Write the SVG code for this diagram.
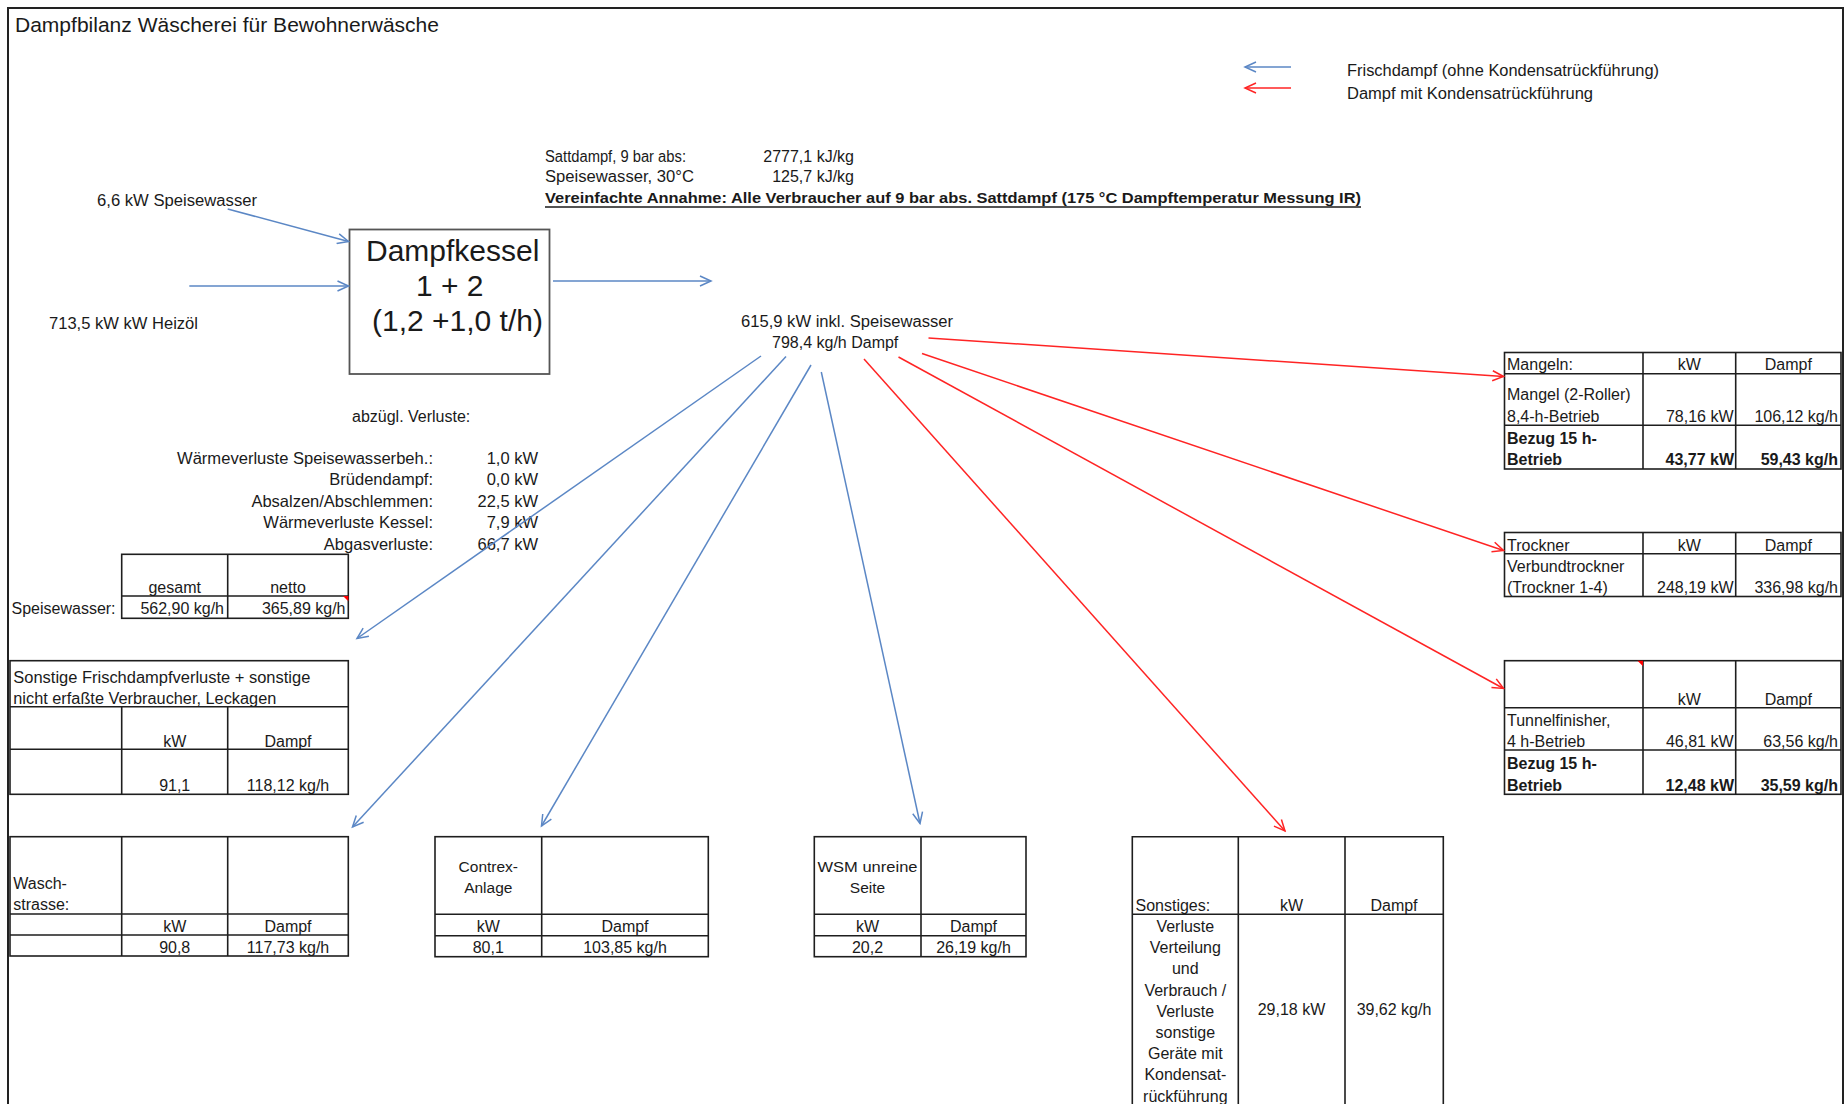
<svg xmlns="http://www.w3.org/2000/svg" width="1845" height="1104" viewBox="0 0 1845 1104">
<style>
  text { font-family: "Liberation Sans", Arial, sans-serif; font-size: 16px; fill: #1a1a1a; }
  .b { font-weight: bold; }
  .m { text-anchor: middle; }
  .e { text-anchor: end; }
  .l16 { font-size: 16.5px; }
  .grid { fill: none; stroke: #1e1e1e; stroke-width: 1.6; }
  .blue { fill: none; stroke: #5b87c5; stroke-width: 1.5; }
  .red { fill: none; stroke: #ff2424; stroke-width: 1.5; }
  .note { fill: #ff0000; }
</style>
<defs>
  <marker id="ab" markerWidth="14" markerHeight="12" refX="12" refY="6" orient="auto" markerUnits="userSpaceOnUse">
    <path d="M1,1 L12,6 L1,11" fill="none" stroke="#5b87c5" stroke-width="1.5"/>
  </marker>
  <marker id="ar" markerWidth="14" markerHeight="12" refX="12" refY="6" orient="auto" markerUnits="userSpaceOnUse">
    <path d="M1,1 L12,6 L1,11" fill="none" stroke="#ff2424" stroke-width="1.5"/>
  </marker>
</defs>

<rect width="1845" height="1104" fill="#ffffff"/>
<!-- sheet frame -->
<path d="M8,1104 V8 H1843 V1104" fill="none" stroke="#222" stroke-width="2"/>

<text x="15" y="31.5" style="font-size:20.5px" textLength="424" lengthAdjust="spacingAndGlyphs">Dampfbilanz Wäscherei für Bewohnerwäsche</text>

<!-- legend -->
<g id="legend">
  <path class="blue" d="M1291,67 L1245,67" marker-end="url(#ab)"/>
  <path class="red" d="M1291,88 L1245,88" marker-end="url(#ar)"/>
  <text x="1347" y="76" textLength="312" lengthAdjust="spacingAndGlyphs">Frischdampf (ohne Kondensatrückführung)</text>
  <text x="1347" y="98.5" textLength="246" lengthAdjust="spacingAndGlyphs">Dampf mit Kondensatrückführung</text>
</g>

<!-- steam properties -->
<g id="properties">
  <text x="545" y="161.5" textLength="141" lengthAdjust="spacingAndGlyphs">Sattdampf, 9 bar abs:</text>
  <text x="854" y="161.5" class="e">2777,1 kJ/kg</text>
  <text x="545" y="182" textLength="149" lengthAdjust="spacingAndGlyphs">Speisewasser, 30°C</text>
  <text x="854" y="182" class="e">125,7 kJ/kg</text>
  <text x="545" y="203" class="b" style="font-size:15.5px" textLength="816" lengthAdjust="spacingAndGlyphs">Vereinfachte Annahme: Alle Verbraucher auf 9 bar abs. Sattdampf (175 °C Dampftemperatur Messung IR)</text>
  <line x1="545" y1="207" x2="1361" y2="207" stroke="#1a1a1a" stroke-width="1.4"/>
</g>

<!-- inputs -->
<g id="inputs">
  <text x="97" y="205.5" textLength="160" lengthAdjust="spacingAndGlyphs">6,6 kW Speisewasser</text>
  <text x="49" y="328.5" textLength="149" lengthAdjust="spacingAndGlyphs">713,5 kW kW Heizöl</text>
</g>

<!-- boiler -->
<g id="boiler">
  <rect x="349.5" y="229.5" width="200" height="144.5" fill="#fff" stroke="#555" stroke-width="1.8"/>
  <text x="366" y="261" style="font-size:30px">Dampfkessel</text>
  <text x="416" y="296" style="font-size:30px">1 + 2</text>
  <text x="372" y="331" style="font-size:30px">(1,2 +1,0 t/h)</text>
</g>

<!-- boiler output -->
<g id="output">
  <text x="741" y="327" textLength="212" lengthAdjust="spacingAndGlyphs">615,9 kW inkl. Speisewasser</text>
  <text x="772" y="348">798,4 kg/h Dampf</text>
</g>

<!-- boiler losses -->
<g id="losses">
  <text x="352" y="422">abzügl. Verluste:</text>
  <text x="433" y="464" class="e" textLength="256" lengthAdjust="spacingAndGlyphs">Wärmeverluste Speisewasserbeh.:</text>
  <text x="433" y="485" class="e l16">Brüdendampf:</text>
  <text x="433" y="506.5" class="e l16">Absalzen/Abschlemmen:</text>
  <text x="433" y="528" class="e l16">Wärmeverluste Kessel:</text>
  <text x="433" y="550" class="e l16">Abgasverluste:</text>
  <text x="538" y="464" class="e l16">1,0 kW</text>
  <text x="538" y="485" class="e l16">0,0 kW</text>
  <text x="538" y="506.5" class="e l16">22,5 kW</text>
  <text x="538" y="528" class="e l16">7,9 kW</text>
  <text x="538" y="550" class="e l16">66,7 kW</text>
</g>

<!-- feed water -->
<g id="speisewasser">
  <rect class="grid" x="121.7" y="554.3" width="226.6" height="64"/>
  <path class="grid" d="M227.7,554.3 V618.3 M121.7,596 H348.3"/>
  <polygon class="note" points="343,596 348.3,596 348.3,601.3"/>
  <text x="174.7" y="592.7" class="m">gesamt</text>
  <text x="288" y="592.7" class="m">netto</text>
  <text x="11.5" y="614">Speisewasser:</text>
  <text x="224" y="614" class="e">562,90 kg/h</text>
  <text x="345.5" y="614" class="e">365,89 kg/h</text>
</g>

<!-- other live-steam losses -->
<g id="frischdampfverluste">
  <rect class="grid" x="10" y="660.7" width="338.3" height="133.6"/>
  <path class="grid" d="M10,706.7 H348.3 M10,749.3 H348.3 M121.7,706.7 V794.3 M227.7,706.7 V794.3"/>
  <text x="13.3" y="682.7" textLength="297" lengthAdjust="spacingAndGlyphs">Sonstige Frischdampfverluste + sonstige</text>
  <text x="13.3" y="704.3" textLength="263" lengthAdjust="spacingAndGlyphs">nicht erfaßte Verbraucher, Leckagen</text>
  <text x="174.7" y="747" class="m">kW</text>
  <text x="288" y="747" class="m">Dampf</text>
  <text x="174.7" y="791" class="m">91,1</text>
  <text x="288" y="791" class="m">118,12 kg/h</text>
</g>

<!-- washing line -->
<g id="waschstrasse">
  <rect class="grid" x="10" y="836.7" width="338.3" height="119.3"/>
  <path class="grid" d="M10,914 H348.3 M10,935 H348.3 M121.7,836.7 V956 M227.7,836.7 V956"/>
  <text x="13.3" y="889">Wasch-</text>
  <text x="13.3" y="910">strasse:</text>
  <text x="174.7" y="932" class="m">kW</text>
  <text x="288" y="932" class="m">Dampf</text>
  <text x="174.7" y="953" class="m">90,8</text>
  <text x="288" y="953" class="m">117,73 kg/h</text>
</g>

<!-- Contrex plant -->
<g id="contrex">
  <rect class="grid" x="435" y="836.7" width="273.3" height="120"/>
  <path class="grid" d="M435,914.3 H708.3 M435,935.7 H708.3 M541.7,836.7 V956.7"/>
  <text x="488.3" y="872" class="m" style="font-size:15.5px">Contrex-</text>
  <text x="488.3" y="893" class="m" style="font-size:15.5px">Anlage</text>
  <text x="488.3" y="932" class="m">kW</text>
  <text x="625" y="932" class="m">Dampf</text>
  <text x="488.3" y="953" class="m">80,1</text>
  <text x="625" y="953" class="m">103,85 kg/h</text>
</g>

<!-- washing machine, soiled side -->
<g id="wsm">
  <rect class="grid" x="814.3" y="836.7" width="211.7" height="120"/>
  <path class="grid" d="M814.3,914.3 H1026 M814.3,935.7 H1026 M921,836.7 V956.7"/>
  <text x="867.5" y="872" class="m" style="font-size:15.5px" textLength="100" lengthAdjust="spacingAndGlyphs">WSM unreine</text>
  <text x="867.5" y="893" class="m" style="font-size:15.5px">Seite</text>
  <text x="867.5" y="932" class="m">kW</text>
  <text x="973.5" y="932" class="m">Dampf</text>
  <text x="867.5" y="953" class="m">20,2</text>
  <text x="973.5" y="953" class="m">26,19 kg/h</text>
</g>

<!-- miscellaneous with condensate return -->
<g id="sonstiges">
  <path class="grid" d="M1132.3,1104 V836.7 H1443.3 V1104 M1238.3,836.7 V1104 M1345,836.7 V1104 M1132.3,914.3 H1443.3"/>
  <text x="1135.5" y="911">Sonstiges:</text>
  <text x="1291.5" y="911" class="m">kW</text>
  <text x="1394" y="911" class="m">Dampf</text>
  <text x="1185.3" y="932" class="m">Verluste</text>
  <text x="1185.3" y="953" class="m">Verteilung</text>
  <text x="1185.3" y="974" class="m">und</text>
  <text x="1185.3" y="995.5" class="m">Verbrauch /</text>
  <text x="1185.3" y="1017" class="m">Verluste</text>
  <text x="1185.3" y="1038" class="m">sonstige</text>
  <text x="1185.3" y="1059" class="m">Geräte mit</text>
  <text x="1185.3" y="1080" class="m">Kondensat-</text>
  <text x="1185.3" y="1101.5" class="m">rückführung</text>
  <text x="1291.5" y="1015" class="m">29,18 kW</text>
  <text x="1394" y="1015" class="m">39,62 kg/h</text>
</g>

<!-- ironers -->
<g id="mangeln">
  <rect class="grid" x="1504.5" y="352.5" width="336.5" height="116.5"/>
  <path class="grid" d="M1643,352.5 V469 M1735.7,352.5 V469 M1504.5,373.7 H1841 M1504.5,425.3 H1841"/>
  <text x="1507" y="370">Mangeln:</text>
  <text x="1689.3" y="370" class="m">kW</text>
  <text x="1788.3" y="370" class="m">Dampf</text>
  <text x="1507" y="400">Mangel (2-Roller)</text>
  <text x="1507" y="421.5">8,4-h-Betrieb</text>
  <text x="1733.5" y="421.5" class="e">78,16 kW</text>
  <text x="1838" y="421.5" class="e">106,12 kg/h</text>
  <text x="1507" y="443.5" class="b">Bezug 15 h-</text>
  <text x="1507" y="465" class="b">Betrieb</text>
  <text x="1734" y="465" class="b e">43,77 kW</text>
  <text x="1838" y="465" class="b e">59,43 kg/h</text>
</g>

<!-- dryers -->
<g id="trockner">
  <rect class="grid" x="1504.5" y="532.5" width="336.5" height="64"/>
  <path class="grid" d="M1643,532.5 V596.5 M1735.7,532.5 V596.5 M1504.5,553.7 H1841"/>
  <text x="1507" y="550.7">Trockner</text>
  <text x="1689.3" y="550.7" class="m">kW</text>
  <text x="1788.3" y="550.7" class="m">Dampf</text>
  <text x="1507" y="572.3">Verbundtrockner</text>
  <text x="1507" y="593.3">(Trockner 1-4)</text>
  <text x="1733.5" y="593.3" class="e">248,19 kW</text>
  <text x="1838" y="593.3" class="e">336,98 kg/h</text>
</g>

<!-- tunnel finisher -->
<g id="tunnelfinisher">
  <rect class="grid" x="1504.5" y="660.7" width="336.5" height="133.6"/>
  <path class="grid" d="M1643,660.7 V794.3 M1735.7,660.7 V794.3 M1504.5,707.7 H1841 M1504.5,750 H1841"/>
  <polygon class="note" points="1637.5,660.7 1643,660.7 1643,666.2"/>
  <text x="1689.3" y="705" class="m">kW</text>
  <text x="1788.3" y="705" class="m">Dampf</text>
  <text x="1507" y="726">Tunnelfinisher,</text>
  <text x="1507" y="747.3">4 h-Betrieb</text>
  <text x="1733.5" y="747.3" class="e">46,81 kW</text>
  <text x="1838" y="747.3" class="e">63,56 kg/h</text>
  <text x="1507" y="768.5" class="b">Bezug 15 h-</text>
  <text x="1507" y="790.5" class="b">Betrieb</text>
  <text x="1734" y="790.5" class="b e">12,48 kW</text>
  <text x="1838" y="790.5" class="b e">35,59 kg/h</text>
</g>

<!-- connectors -->
<g id="connectors">
  <path class="blue" d="M227.7,209 L348.5,241.5" marker-end="url(#ab)"/>
  <path class="blue" d="M189.3,286 L348.5,286" marker-end="url(#ab)"/>
  <path class="blue" d="M553,281 L711,281" marker-end="url(#ab)"/>
  <path class="blue" d="M761,356 L357,638.5" marker-end="url(#ab)"/>
  <path class="blue" d="M786,356.5 L352.5,827" marker-end="url(#ab)"/>
  <path class="blue" d="M811,365 L541.5,826" marker-end="url(#ab)"/>
  <path class="blue" d="M821.3,372 L920,823.5" marker-end="url(#ab)"/>
  <path class="red" d="M864,359 L1285,831" marker-end="url(#ar)"/>
  <path class="red" d="M898.5,357 L1503.5,688.5" marker-end="url(#ar)"/>
  <path class="red" d="M922,353.5 L1503.5,550.5" marker-end="url(#ar)"/>
  <path class="red" d="M928.5,338 L1503.5,376.5" marker-end="url(#ar)"/>
</g>
</svg>
